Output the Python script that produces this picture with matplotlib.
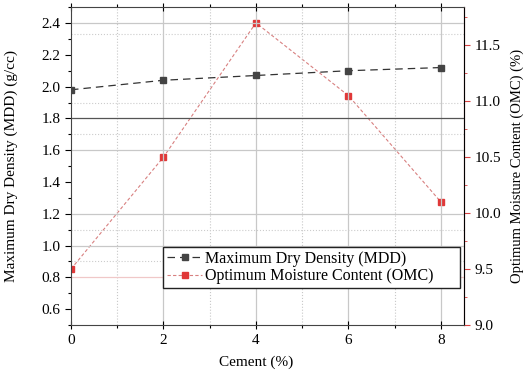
import matplotlib.pyplot as plt
from matplotlib.ticker import MultipleLocator

# data
cement = [0, 2, 4, 6, 8]
mdd = [1.98, 2.04, 2.07, 2.10, 2.12]
omc = [9.5, 10.5, 11.70, 11.05, 10.1]

# extra reference lines seen in the original figure (left axis units)
grid_solid = [2.4, 1.6, 1.2, 1.0]
grid_dotted = [2.33, 1.9, 1.7, 1.1, 0.9]

plt.rcParams['font.family'] = ['Liberation Serif', 'DejaVu Serif']
plt.rcParams['font.size'] = 11

fig = plt.figure(figsize=(5.26, 3.77), dpi=100)
ax = fig.add_axes([0.135, 0.138, 0.747, 0.843])
ax2 = ax.twinx()

# grid
for x in [2, 4, 6, 8]:
    ax.axvline(x, color='#c8c8c8', lw=0.9, zorder=0)
for x in [1, 3, 5, 7]:
    ax.axvline(x, color='#c8c8c8', lw=0.8, ls=':', zorder=0)
for y in grid_solid:
    ax.axhline(y, color='#c8c8c8', lw=0.9, zorder=0)
for y in grid_dotted:
    ax.axhline(y, color='#cccccc', lw=0.8, ls=':', zorder=0)
ax.axhline(1.8, color='#555555', lw=0.9, zorder=0)
ax.axhline(0.8, color='#f0c8c8', lw=0.9, zorder=0)

l1, = ax.plot(cement, mdd, color='#333333', lw=0.9, ls=(0, (6, 4)),
              marker='s', ms=5, mfc='#444444', mec='#444444', zorder=3)
l2, = ax2.plot(cement, omc, color='#d88080', lw=0.8, ls=(0, (3, 2)),
               marker='s', ms=5, mfc='#e03838', mec='#e03838', zorder=3)

ax.set_xlim(0, 8.5)
ax.set_ylim(0.5, 2.5)
ax2.set_ylim(9.0, 11.84)

ax.xaxis.set_major_locator(MultipleLocator(2))
ax.xaxis.set_minor_locator(MultipleLocator(1))
ax.yaxis.set_major_locator(MultipleLocator(0.2))
ax.yaxis.set_minor_locator(MultipleLocator(0.1))
ax2.yaxis.set_major_locator(MultipleLocator(0.5))
ax2.yaxis.set_minor_locator(MultipleLocator(0.25))
ax.yaxis.set_major_formatter(plt.FormatStrFormatter('%.1f'))
ax2.yaxis.set_major_formatter(plt.FormatStrFormatter('%.1f'))

ax.tick_params(axis='both', which='major', direction='out', length=4, width=0.8)
ax.tick_params(axis='both', which='minor', direction='out', length=2.5, width=0.8)
ax.tick_params(axis='x', top=True, which='both')
ax.tick_params(axis='x', which='major', top=True, direction='inout', length=6)

red = '#d84040'
ax2.spines['right'].set_color(red)
ax2.tick_params(axis='y', which='both', colors=red, labelcolor='black', direction='out')
ax2.tick_params(axis='y', which='major', length=4)
ax2.tick_params(axis='y', which='minor', length=2.5)

for s in ['left', 'bottom', 'top']:
    ax.spines[s].set_color('#444444')
ax2.spines['top'].set_visible(False)
ax2.spines['left'].set_visible(False)
ax2.spines['bottom'].set_visible(False)

ax.set_xlabel('Cement (%)')
ax.set_ylabel('Maximum Dry Density (MDD) (g/cc)')
ax2.set_ylabel('Optimum Moisture Content (OMC) (%)', fontsize=10.5)
ax.xaxis.set_label_coords(0.47, -0.095)
ax.yaxis.set_label_coords(-0.135, 0.5)
ax2.yaxis.set_label_coords(1.118, 0.5)

leg = ax.legend([l1, l2], ['Maximum Dry Density (MDD)', 'Optimum Moisture Content (OMC)'],
                loc='lower left', bbox_to_anchor=(0.234, 0.116, 0.756, 0.135),
                mode='expand', borderaxespad=0, fancybox=False, framealpha=1,
                edgecolor='#222222', borderpad=0.25, handlelength=2.2,
                handletextpad=0.2, labelspacing=0.1, fontsize=11.5)
leg.get_frame().set_linewidth(1.0)
ax.set_zorder(ax2.get_zorder() + 1)
ax.patch.set_visible(False)

fig.savefig('out.png', dpi=100)
